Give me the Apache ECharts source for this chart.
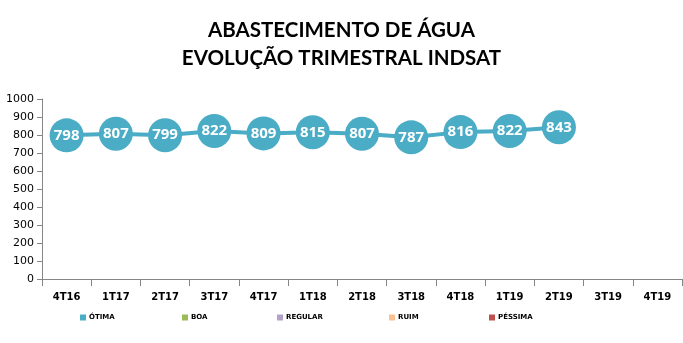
<!DOCTYPE html>
<html><head><meta charset="utf-8">
<script src="https://cdn.jsdelivr.net/npm/echarts@6/dist/echarts.min.js"></script>
<style>html,body{margin:0;padding:0;background:#fff}#c{width:683px;height:343px}</style>
</head><body><div id="c"></div>
<script>
const categories = ['4T16','1T17','2T17','3T17','4T17','1T18','2T18','3T18','4T18','1T19','2T19','3T19','4T19'];
const otima = [798,807,799,822,809,815,807,787,816,822,843,null,null];
const seriesNames = ['ÓTIMA','BOA','REGULAR','RUIM','PÉSSIMA'];
const seriesColors = ['#4BACC6','#9BBB59','#B3A2C7','#FAC090','#C0504D'];
const yTicks = [0,100,200,300,400,500,600,700,800,900,1000];

const chart = echarts.init(document.getElementById('c'));
const legendLefts = [75, 177, 272, 384, 484];
const series = seriesNames.map((n,i)=>({
  name:n, type:'line', color:seriesColors[i],
  data: i===0 ? otima : categories.map(()=>null),
  symbol:'circle', symbolSize:34, showSymbol: i===0,
  lineStyle:{width:4,color:seriesColors[i]},
  itemStyle:{color:seriesColors[i]},
  label:{show:i===0,position:'inside',color:'#fff',fontWeight:'bold',fontSize:15,fontFamily:'Open Sans'},
  animation:false
}));
chart.setOption({
  animation:false,
  title:{text:'ABASTECIMENTO DE ÁGUA\nEVOLUÇÃO TRIMESTRAL INDSAT',left:'center',top:11,
    textStyle:{fontSize:20.5,fontWeight:'bold',fontFamily:'Lato',color:'#000',lineHeight:28}},
  grid:{left:42,right:1,top:99,bottom:64},
  legend: seriesNames.map((n,i)=>({data:[n],left:legendLefts[i],top:309,itemWidth:6,itemHeight:6,itemGap:2,
    icon:'rect',textStyle:{fontSize:7,fontWeight:'bold',fontFamily:'DejaVu Sans',color:'#000',padding:[0,0,0,-2]}})),
  xAxis:{type:'category',data:categories,boundaryGap:true,
    axisLine:{lineStyle:{color:'#868686'}},
    axisTick:{show:true,length:7,lineStyle:{color:'#868686'}},
    axisLabel:{color:'#000',fontWeight:'bold',fontSize:10,fontFamily:'DejaVu Sans',margin:13}},
  yAxis:{type:'value',min:yTicks[0],max:yTicks[yTicks.length-1],interval:100,
    axisLine:{show:true,lineStyle:{color:'#868686'}},
    axisTick:{show:true,length:5,lineStyle:{color:'#868686'}},
    splitLine:{show:false},
    axisLabel:{color:'#000',fontSize:11,fontFamily:'DejaVu Sans',margin:8,formatter:v=>String(v)}},
  series: series
});
</script></body></html>
